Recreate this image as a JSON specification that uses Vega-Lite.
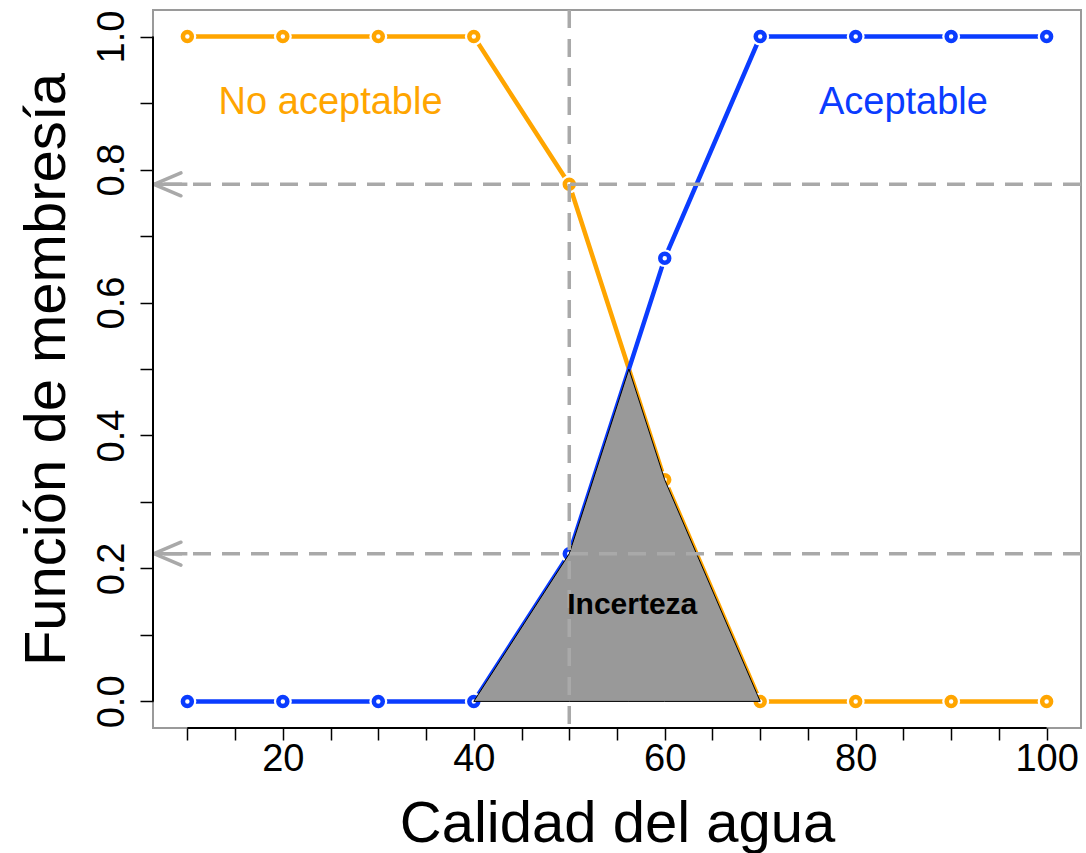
{
  "$schema": "https://vega.github.io/schema/vega-lite/v6.json",
  "width": 928,
  "height": 718,
  "autosize": {"type": "none"},
  "padding": {"left": 153, "top": 10, "right": 5, "bottom": 125},
  "background": "white",
  "config": {
    "font": "Liberation Sans",
    "view": {"stroke": "#9a9a9a", "strokeWidth": 2},
    "axis": {
      "grid": false,
      "domain": false,
      "tickColor": "black",
      "tickWidth": 1.5,
      "labelColor": "black",
      "titleColor": "black",
      "labelFont": "Liberation Sans",
      "titleFont": "Liberation Sans",
      "titleFontWeight": "normal",
      "labelOverlap": false,
      "labelFlush": false
    }
  },
  "datasets": {
    "curves": [
      {"x": 10, "y": 1, "serie": "No aceptable"},
      {"x": 20, "y": 1, "serie": "No aceptable"},
      {"x": 30, "y": 1, "serie": "No aceptable"},
      {"x": 40, "y": 1, "serie": "No aceptable"},
      {"x": 50, "y": 0.7778, "serie": "No aceptable"},
      {"x": 60, "y": 0.3333, "serie": "No aceptable"},
      {"x": 70, "y": 0, "serie": "No aceptable"},
      {"x": 80, "y": 0, "serie": "No aceptable"},
      {"x": 90, "y": 0, "serie": "No aceptable"},
      {"x": 100, "y": 0, "serie": "No aceptable"},
      {"x": 10, "y": 0, "serie": "Aceptable"},
      {"x": 20, "y": 0, "serie": "Aceptable"},
      {"x": 30, "y": 0, "serie": "Aceptable"},
      {"x": 40, "y": 0, "serie": "Aceptable"},
      {"x": 50, "y": 0.2222, "serie": "Aceptable"},
      {"x": 60, "y": 0.6667, "serie": "Aceptable"},
      {"x": 70, "y": 1, "serie": "Aceptable"},
      {"x": 80, "y": 1, "serie": "Aceptable"},
      {"x": 90, "y": 1, "serie": "Aceptable"},
      {"x": 100, "y": 1, "serie": "Aceptable"}
    ],
    "region": [
      {"x": 40, "y": 0},
      {"x": 50, "y": 0.2222},
      {"x": 56.25, "y": 0.5},
      {"x": 60, "y": 0.3333},
      {"x": 70, "y": 0}
    ],
    "cut": [{"x": 50}],
    "refs": [{"y": 0.7778}, {"y": 0.2222}],
    "labels": [
      {"x": 25, "y": 0.9, "texto": "No aceptable", "serie": "No aceptable"},
      {"x": 85, "y": 0.9, "texto": "Aceptable", "serie": "Aceptable"}
    ],
    "incerteza": [{"x": 56.6, "y": 0.145, "texto": "Incerteza"}],
    "one": [{}]
  },
  "layer": [
    {
      "data": {"name": "curves"},
      "mark": {"type": "line", "strokeWidth": 4.5, "strokeCap": "round"},
      "encoding": {
        "x": {
          "field": "x", "type": "quantitative",
          "scale": {"domain": [6.4, 103.6], "nice": false, "zero": false},
          "axis": {
            "title": "Calidad del agua",
            "values": [10, 15, 20, 25, 30, 35, 40, 45, 50, 55, 60, 65, 70, 75, 80, 85, 90, 95, 100],
            "labelExpr": "datum.value % 20 === 0 ? datum.label : ''",
            "tickSize": 12,
            "labelPadding": 0,
            "labelFontSize": 38,
            "titleFontSize": 58,
            "titlePadding": 17
          }
        },
        "y": {
          "field": "y", "type": "quantitative",
          "scale": {"domain": [-0.04, 1.04], "nice": false, "zero": false},
          "axis": {
            "title": "Función de membresía",
            "values": [0, 0.05, 0.1, 0.15, 0.2, 0.25, 0.3, 0.35, 0.4, 0.45, 0.5, 0.55, 0.6, 0.65, 0.7, 0.75, 0.8, 0.85, 0.9, 0.95, 1],
            "labelExpr": "abs(datum.value * 5 - round(datum.value * 5)) < 0.001 ? format(datum.value, '.1f') : ''",
            "labelAngle": -90,
            "labelAlign": "center",
            "labelBaseline": "bottom",
            "tickSize": 13,
            "labelPadding": 9,
            "labelFontSize": 38,
            "titleFontSize": 58,
            "titlePadding": 17
          }
        },
        "color": {
          "field": "serie", "type": "nominal",
          "scale": {"domain": ["No aceptable", "Aceptable"], "range": ["#FFA500", "#0a3cff"]},
          "legend": null
        }
      }
    },
    {
      "data": {"name": "curves"},
      "mark": {"type": "point", "shape": "circle", "filled": true, "color": "white", "size": 320, "opacity": 1},
      "encoding": {
        "x": {"field": "x", "type": "quantitative"},
        "y": {"field": "y", "type": "quantitative"}
      }
    },
    {
      "data": {"name": "curves"},
      "mark": {"type": "point", "shape": "circle", "filled": false, "fill": "white", "fillOpacity": 1, "size": 80, "strokeWidth": 4.5, "opacity": 1},
      "encoding": {
        "x": {"field": "x", "type": "quantitative"},
        "y": {"field": "y", "type": "quantitative"},
        "color": {"field": "serie", "type": "nominal", "legend": null}
      }
    },
    {
      "data": {"name": "region"},
      "mark": {"type": "area", "fill": "#999999", "fillOpacity": 1, "stroke": "black", "strokeWidth": 1},
      "encoding": {
        "x": {"field": "x", "type": "quantitative"},
        "y": {"field": "y", "type": "quantitative"},
        "y2": {"datum": 0}
      }
    },
    {
      "data": {"name": "cut"},
      "mark": {"type": "rule", "color": "#a9a9a9", "strokeWidth": 3.5, "strokeDash": [18, 11]},
      "encoding": {
        "x": {"field": "x", "type": "quantitative"}
      }
    },
    {
      "data": {"name": "refs"},
      "mark": {"type": "rule", "color": "#a9a9a9", "strokeWidth": 3.5, "strokeDash": [18, 11]},
      "encoding": {
        "y": {"field": "y", "type": "quantitative"}
      }
    },
    {
      "data": {"name": "refs"},
      "mark": {"type": "rule", "color": "#a9a9a9", "strokeWidth": 3.5},
      "encoding": {
        "x": {"datum": 6.5, "type": "quantitative"},
        "x2": {"datum": 10},
        "y": {"field": "y", "type": "quantitative"}
      }
    },
    {
      "data": {"name": "refs"},
      "mark": {"type": "point", "shape": "M2,-0.85L0,0L2,0.85", "filled": false, "color": "#a9a9a9", "size": 729, "strokeWidth": 3.5, "strokeCap": "round", "strokeJoin": "round", "opacity": 1},
      "encoding": {
        "x": {"datum": 6.5, "type": "quantitative"},
        "y": {"field": "y", "type": "quantitative"}
      }
    },
    {
      "data": {"name": "labels"},
      "mark": {"type": "text", "fontSize": 38, "align": "center", "baseline": "middle", "font": "Liberation Sans"},
      "encoding": {
        "x": {"field": "x", "type": "quantitative"},
        "y": {"field": "y", "type": "quantitative"},
        "text": {"field": "texto"},
        "color": {"field": "serie", "type": "nominal", "legend": null}
      }
    },
    {
      "data": {"name": "incerteza"},
      "mark": {"type": "text", "fontSize": 30, "fontWeight": "bold", "align": "center", "baseline": "middle", "color": "black", "font": "Liberation Sans"},
      "encoding": {
        "x": {"field": "x", "type": "quantitative"},
        "y": {"field": "y", "type": "quantitative"},
        "text": {"field": "texto"}
      }
    },
    {
      "data": {"name": "one"},
      "mark": {"type": "rule", "color": "black", "strokeWidth": 2},
      "encoding": {
        "x": {"datum": 10, "type": "quantitative"},
        "x2": {"datum": 100},
        "y": {"datum": -0.04, "type": "quantitative"}
      }
    },
    {
      "data": {"name": "one"},
      "mark": {"type": "rule", "color": "black", "strokeWidth": 2},
      "encoding": {
        "y": {"datum": 0, "type": "quantitative"},
        "y2": {"datum": 1},
        "x": {"datum": 6.4, "type": "quantitative"}
      }
    }
  ]
}
